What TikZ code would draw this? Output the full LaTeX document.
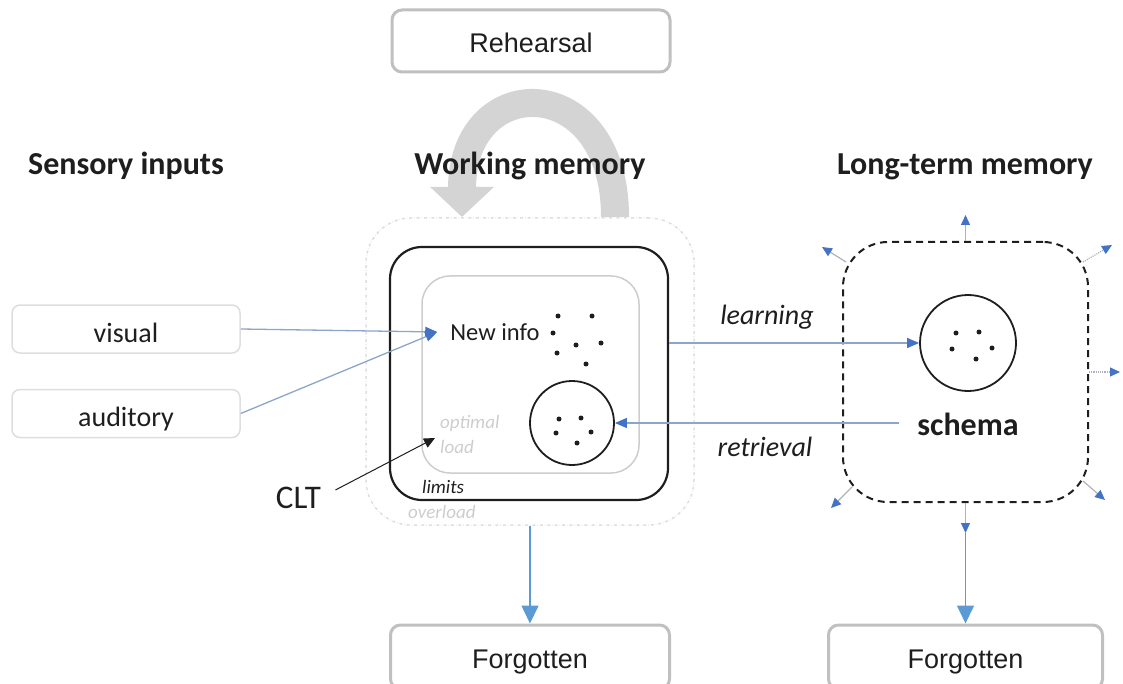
\documentclass[tikz,border=0pt]{standalone}
\usepackage{fontspec}
\setmainfont{Carlito}
\newfontfamily\arialf{Liberation Sans}
\usetikzlibrary{arrows.meta}
\definecolor{boxgray}{RGB}{192,192,192}
\definecolor{lightline}{RGB}{222,222,222}
\definecolor{arcgray}{RGB}{212,212,212}
\definecolor{linkblue}{RGB}{140,165,200}
\definecolor{tipblue}{RGB}{68,114,196}
\definecolor{skyblue}{RGB}{91,155,213}
\definecolor{faint}{RGB}{205,205,205}
\definecolor{shaftgray}{RGB}{175,178,188}
\definecolor{ink}{RGB}{30,30,30}
\begin{document}
\begin{tikzpicture}[x=1pt,y=-1pt,
  greybox/.style={draw=boxgray,line width=3pt,rounded corners=10pt,minimum height=62pt,inner sep=0pt,
    font=\arialf\fontsize{27}{30}\selectfont,text=ink,text height=23pt,text depth=0pt},
  inputbox/.style={draw=lightline,line width=1.5pt,rounded corners=8pt,minimum width=228pt,minimum height=48pt,inner sep=0pt,
    font=\fontsize{28}{32}\selectfont,text=ink,text height=26pt,text depth=0pt},
  heading/.style={anchor=base,inner sep=0pt,font=\bfseries\fontsize{32}{36}\selectfont,text=ink},
  faintlabel/.style={anchor=west,inner sep=0pt,font=\itshape\fontsize{19}{22}\selectfont,text=faint},
  flowlabel/.style={inner sep=0pt,font=\itshape\fontsize{28}{32}\selectfont,text=ink},
  linkarrow/.style={draw=linkblue,line width=1.3pt,-{Triangle[length=12pt,width=10pt,color=tipblue]}},
  forgetarrow/.style={draw=skyblue,line width=1.6pt,-{Triangle[length=18pt,width=17pt]}},
  smallarrow/.style={draw=shaftgray,line width=1.2pt,-{Triangle[length=10pt,width=9pt,color=tipblue]}},
  dot/.style={fill=ink}
]
\useasboundingbox (0,0) rectangle (1123,684);

% rehearsal loop arrow
\node[greybox,minimum width=278pt] (rehearsal) at (531,41) {Rehearsal};
\draw[arcgray,line width=28pt,-{Triangle[length=30pt,width=62pt]}]
  (615,217) .. controls (615,70) and (462,70) .. (462,217);

% headings
\node[heading] (hsens) at (126,175) {Sensory inputs};
\node[heading] (hwork) at (530,175) {Working memory};
\node[heading] (hlong) at (965,175) {Long-term memory};

% working memory boxes
\node[draw=lightline,dash dot,line width=1.5pt,rounded corners=45pt,minimum width=328pt,minimum height=307pt,inner sep=0pt] (overload) at (530,371.5) {};
\node[draw=ink,line width=2.2pt,rounded corners=32pt,minimum width=278pt,minimum height=253pt,inner sep=0pt] (wmbox) at (529,373.5) {};
\node[draw=faint,line width=1.5pt,rounded corners=28pt,minimum width=217pt,minimum height=197pt,inner sep=0pt] (optbox) at (530.5,374.5) {};
\node[draw=ink,line width=1.8pt,circle,minimum size=84pt,inner sep=0pt] (wmc) at (572,423) {};

\node[inner xsep=13pt,inner ysep=0pt,font=\fontsize{24.5}{28}\selectfont,text=ink] (newinfo) at (495,332) {New info};
\foreach \p in {(558,316),(592,316),(553,333),(576,345),(601,343),(557,353),(586,364),
                (559,419),(581,418),(556,433),(591,432),(577,443),
                (956,333),(979,332),(952,349),(992,348),(976,359)}
  \fill[dot] \p circle (2.5pt);

\node[faintlabel] (optimal) at (440,423) {optimal};
\node[faintlabel] (load) at (440,447) {load};
\node[faintlabel,text=ink] (limits) at (422,487) {limits};
\node[faintlabel] (overloadlbl) at (408,512) {overload};

% sensory inputs
\node[inputbox] (visual) at (126,329) {visual};
\node[inputbox] (auditory) at (126,413.5) {auditory};
\draw[linkarrow] (visual.east) -- (newinfo.west);
\draw[linkarrow] (auditory.east) -- (newinfo.west);

% CLT
\node[anchor=base,inner sep=0pt,font=\fontsize{33}{36}\selectfont,text=ink] (clt) at (298.5,508) {CLT};
\coordinate (cltend) at (435,438);
\draw[draw=ink,line width=1pt,shorten <=16pt,-{Triangle[length=11pt,width=10pt]}] (clt.east) -- (cltend);

% long-term memory
\node[draw=ink,dashed,dash pattern=on 7pt off 5pt,line width=2pt,rounded corners=45pt,minimum width=245pt,minimum height=260pt,inner sep=0pt] (ltm) at (965.5,372) {};
\node[draw=ink,line width=1.8pt,circle,minimum size=96pt,inner sep=0pt] (sc) at (968,343) {};
\node[inner sep=0pt,font=\bfseries\fontsize{32}{36}\selectfont,text=ink,text height=24pt,text depth=0pt] (schema) at (968,423) {schema};

\node[flowlabel] (learning) at (767,317) {learning};
\node[flowlabel] (retrieval) at (765,447) {retrieval};
\draw[linkarrow] (wmbox.east |- sc.west) -- (sc.west);
\draw[linkarrow] ([xshift=-18pt]schema.west) -- (wmc.east);

% spreading arrows
\coordinate (tN) at (965.5,215);
\coordinate (sNW) at (846,262);   \coordinate (tNW) at (822,247);
\coordinate (sNE) at (1083,262);  \coordinate (tNE) at (1112,245);
\coordinate (tE) at (1120,372);
\coordinate (sSW) at (852,487);   \coordinate (tSW) at (831,508);
\coordinate (sSE) at (1083,481);  \coordinate (tSE) at (1105,500);
\coordinate (ltmbot) at (965.5,533);
\draw[smallarrow] (ltm.north) -- (tN);
\draw[smallarrow] (sNW) -- (tNW);
\draw[smallarrow,densely dotted] (sNE) -- (tNE);
\draw[smallarrow,densely dotted] (ltm.east) -- (tE);
\draw[smallarrow] (sSW) -- (tSW);
\draw[smallarrow] (sSE) -- (tSE);
\draw[smallarrow] (ltm.south) -- (ltmbot);

% forgotten
\node[greybox,minimum width=279pt,minimum height=64pt] (forgL) at (530,657) {Forgotten};
\node[greybox,minimum width=274pt,minimum height=64pt] (forgR) at (965.5,657) {Forgotten};
\draw[forgetarrow] (overload.south) -- (forgL.north);
\draw[forgetarrow] (ltmbot) -- (forgR.north);
\end{tikzpicture}
\end{document}
